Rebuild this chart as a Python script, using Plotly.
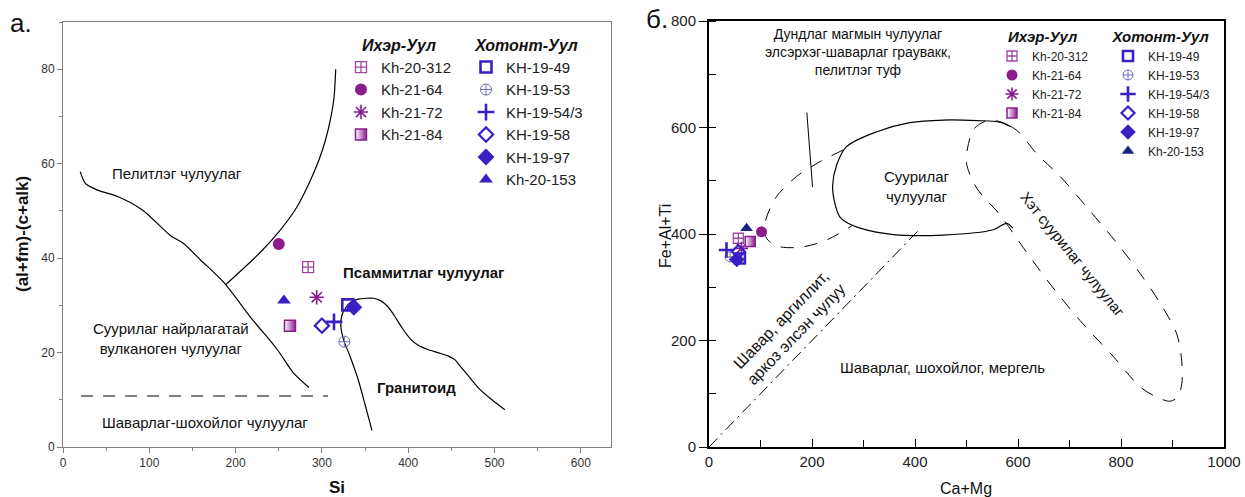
import plotly.graph_objects as go

FONT = "Liberation Sans, Arial, sans-serif"
PURPLE = "#8B1C8E"
PURPLE_L = "#9B4A9E"
BLUE = "#3A1FC4"
NAVY = "#1A2380"

# ---------------- sample names ----------------
ixer_names = ["Kh-20-312", "Kh-21-64", "Kh-21-72", "Kh-21-84"]
xot_names = ["KH-19-49", "KH-19-53", "KH-19-54/3", "KH-19-58", "KH-19-97", "Kh-20-153"]

# ---------------- panel a: Si vs (al+fm)-(c+alk) ----------------
a_ixer_si = [284, 250, 294, 263]
a_ixer_val = [38.1, 43.0, 31.7, 25.7]
a_xot_si = [330, 326, 314, 300, 337, 256]
a_xot_val = [30.1, 22.3, 26.5, 25.7, 29.6, 31.0]

# boundaries (panel a)
a_pel_x = [20, 26, 40, 64, 92, 125, 139, 160, 186, 219, 248, 267, 285]
a_pel_y = [58.3, 55.8, 54.4, 53.0, 50.2, 44.7, 43.2, 39.5, 34.9, 27.1, 20.7, 15.7, 12.6]
a_psm_x = [188, 229, 252, 270, 285, 297, 304, 310, 314, 316]
a_psm_y = [34.3, 41.3, 46.0, 50.5, 55.8, 61.0, 64.9, 69.5, 73.9, 80.0]
a_dash_x = [21, 307]
a_dash_y = [10.8, 10.8]
a_gran_x = [358, 350, 342, 333, 325, 322, 323, 328, 333, 342, 351, 360, 368, 376, 384,
            393, 403, 412, 422, 434, 446, 454, 460, 470, 483, 497, 512]
a_gran_y = [3.5, 9.0, 14.3, 19.0, 22.8, 25.5, 27.8, 29.6, 30.6, 31.3, 31.5, 31.5, 31.0, 29.8, 27.8,
            25.2, 22.8, 21.5, 20.7, 20.0, 19.3, 18.5, 17.2, 15.0, 12.2, 10.0, 7.9]

# ---------------- panel б: Ca+Mg vs Fe+Al+Ti ----------------
b_ixer_camg = [57, 102, 63, 80]
b_ixer_feal = [392, 404, 373, 386]
b_xot_camg = [60, 41, 34, 57, 54, 73]
b_xot_feal = [354, 357, 370, 367, 352, 411]

# boundaries (panel б)
b_dd_x = [0, 405]
b_dd_y = [0, 405]
b_ptr_x = [190, 201]
b_ptr_y = [628, 488]
b_ell_x = [585, 565, 520, 455, 390, 326, 267, 248, 240, 245, 254, 270, 293, 358, 455, 552, 578, 590]
b_ell_y = [602, 610, 613, 614, 609, 592, 564, 530, 490, 455, 432, 420, 411, 399, 398, 408, 420, 411]
b_mid_x = [261, 216, 170, 131, 112, 107, 115, 138, 183, 229, 280]
b_mid_y = [558, 536, 508, 470, 432, 405, 388, 376, 376, 389, 417]
b_hyp_x = [545, 584, 604, 636, 682, 733, 792, 837, 876, 908, 918, 918, 910, 895, 869, 837,
           785, 720, 656, 604, 565, 520, 500, 504, 515, 545]
b_hyp_y = [614, 603, 589, 551, 508, 451, 383, 326, 270, 213, 160, 119, 94, 86, 94, 113,
           170, 238, 314, 383, 436, 486, 533, 570, 598, 614]

# ---------------- marker styles ----------------
ixer_style = {
    "Kh-20-312": dict(symbol="square-cross-open", color=PURPLE_L, size=11, line=dict(width=1.3, color=PURPLE_L)),
    "Kh-21-64": dict(symbol="circle", color=PURPLE, size=12),
    "Kh-21-72": dict(symbol="asterisk-open", color=PURPLE, size=12, line=dict(width=1.6, color=PURPLE)),
    "Kh-21-84": dict(symbol="square", color="white", size=11, line=dict(width=1.5, color=PURPLE),
                     gradient=dict(type="horizontal", color=PURPLE)),
}
xot_style = {
    "KH-19-49": dict(symbol="square-open", color=BLUE, size=11, line=dict(width=2.6, color=BLUE)),
    "KH-19-53": dict(symbol="circle-cross-open", color="#6A6FB8", size=11, line=dict(width=1, color="#6A6FB8")),
    "KH-19-54/3": dict(symbol="cross-thin-open", color=BLUE, size=12, line=dict(width=2.6, color=BLUE)),
    "KH-19-58": dict(symbol="diamond-open", color=BLUE, size=11, line=dict(width=2.2, color=BLUE)),
    "KH-19-97": dict(symbol="diamond", color=BLUE, size=13),
    "Kh-20-153": dict(symbol="triangle-up", color=BLUE, size=12),
}

fig = go.Figure()

# ---- panel a lines ----
line_k = dict(color="black", width=1.2, shape="spline", smoothing=0.8)
for xs, ys in [(a_pel_x, a_pel_y), (a_psm_x, a_psm_y), (a_gran_x, a_gran_y)]:
    fig.add_trace(go.Scatter(x=xs, y=ys, mode="lines", line=line_k, showlegend=False,
                             hoverinfo="skip", xaxis="x", yaxis="y"))
fig.add_trace(go.Scatter(x=a_dash_x, y=a_dash_y, mode="lines",
                         line=dict(color="black", width=1.2, dash="12px,10px"),
                         showlegend=False, hoverinfo="skip", xaxis="x", yaxis="y"))

# ---- panel б lines ----
fig.add_trace(go.Scatter(x=b_dd_x, y=b_dd_y, mode="lines",
                         line=dict(color="black", width=1, dash="12px,5px,2px,5px"),
                         showlegend=False, hoverinfo="skip", xaxis="x2", yaxis="y2"))
fig.add_trace(go.Scatter(x=b_ptr_x, y=b_ptr_y, mode="lines", line=dict(color="black", width=1),
                         showlegend=False, hoverinfo="skip", xaxis="x2", yaxis="y2"))
fig.add_trace(go.Scatter(x=b_ell_x, y=b_ell_y, mode="lines",
                         line=dict(color="black", width=1.2, shape="spline", smoothing=0.9),
                         showlegend=False, hoverinfo="skip", xaxis="x2", yaxis="y2"))
for xs, ys in [(b_mid_x, b_mid_y), (b_hyp_x, b_hyp_y)]:
    fig.add_trace(go.Scatter(x=xs, y=ys, mode="lines",
                             line=dict(color="black", width=1, dash="13px,11px", shape="spline", smoothing=0.9),
                             showlegend=False, hoverinfo="skip", xaxis="x2", yaxis="y2"))

# ---- panel a points ----
for i, n in enumerate(ixer_names):
    fig.add_trace(go.Scatter(x=[a_ixer_si[i]], y=[a_ixer_val[i]], mode="markers", name=n,
                             marker=ixer_style[n], legend="legend", xaxis="x", yaxis="y"))
for i, n in enumerate(xot_names):
    fig.add_trace(go.Scatter(x=[a_xot_si[i]], y=[a_xot_val[i]], mode="markers", name=n,
                             marker=xot_style[n], legend="legend2", xaxis="x", yaxis="y"))

# ---- panel б points ----
for i, n in enumerate(ixer_names):
    st = dict(ixer_style[n]); st["size"] = st["size"] - 1
    fig.add_trace(go.Scatter(x=[b_ixer_camg[i]], y=[b_ixer_feal[i]], mode="markers", name=n,
                             marker=st, legend="legend3", xaxis="x2", yaxis="y2"))
for i, n in enumerate(xot_names):
    st = dict(xot_style[n]); st["size"] = st["size"] - 1
    if n == "Kh-20-153":
        st["color"] = NAVY
    fig.add_trace(go.Scatter(x=[b_xot_camg[i]], y=[b_xot_feal[i]], mode="markers", name=n,
                             marker=st, legend="legend4", xaxis="x2", yaxis="y2"))


def leg(x, y, title, size, tsize):
    return dict(x=x, y=y, xanchor="left", yanchor="top", xref="paper", yref="paper",
                title=dict(text="<b><i>" + title + "</i></b>", side="top center",
                           font=dict(size=tsize, family=FONT, color="#111")),
                font=dict(size=size, family=FONT, color="#222"), bgcolor="rgba(0,0,0,0)",
                itemclick=False, itemdoubleclick=False, tracegroupgap=0)


W, H = 1245, 497
ann = []
# panel a labels
ann += [
    dict(x=54, y=57.9, text="Пелитлэг чулуулаг", xanchor="left", font=dict(size=15)),
    dict(x=418, y=37.0, text="<b>Псаммитлаг чулуулаг</b>", font=dict(size=15)),
    dict(x=125, y=22.9, text="Суурилаг найрлагатай<br>вулканоген чулуулаг", font=dict(size=15)),
    dict(x=410, y=12.6, text="<b>Гранитоид</b>", font=dict(size=15)),
    dict(x=164, y=5.1, text="Шаварлаг-шохойлог чулуулаг", font=dict(size=15)),
]
for a in ann:
    a.update(xref="x", yref="y", showarrow=False)
ann2 = [
    dict(x=290, y=742, text="Дундлаг магмын чулуулаг<br>элсэрхэг-шаварлаг граувакк,<br>пелитлэг туф",
         font=dict(size=14)),
    dict(x=403, y=489, text="Суурилаг<br>чулуулаг", font=dict(size=15)),
    dict(x=707, y=362, text="Хэт суурилаг чулуулаг", textangle=51, font=dict(size=15)),
    dict(x=155, y=225, text="Шавар, аргиллит,<br>аркоз элсэн чулуу", textangle=-46, font=dict(size=16)),
    dict(x=454, y=149, text="Шаварлаг, шохойлог, мергель", font=dict(size=15)),
]
for a in ann2:
    a.update(xref="x2", yref="y2", showarrow=False)
ann += ann2
# panel letters and axis titles
ann += [
    dict(x=8 / W, y=1 - 6 / H, text="а.", xanchor="left", yanchor="top", font=dict(size=26)),
    dict(x=644 / W, y=1 - 2 / H, text="б.", xanchor="left", yanchor="top", font=dict(size=26)),
    dict(x=337 / W, y=1 - 487 / H, text="<b>Si</b>", font=dict(size=17)),
    dict(x=22 / W, y=1 - 234 / H, text="<b>(al+fm)-(c+alk)</b>", textangle=-90, font=dict(size=17)),
    dict(x=966 / W, y=1 - 488 / H, text="Ca+Mg", font=dict(size=16)),
    dict(x=665 / W, y=1 - 236 / H, text="Fe+Al+Ti", textangle=-90, font=dict(size=16)),
]
for a in ann[-6:]:
    a.update(xref="paper", yref="paper", showarrow=False)

for a in ann:
    a.setdefault("xanchor", "center")
    a.setdefault("yanchor", "middle")
    f = a.get("font", {})
    f.setdefault("family", FONT)
    f.setdefault("color", "#111")
    a["font"] = f

fig.update_layout(
    width=W, height=H, margin=dict(l=0, r=0, t=0, b=0, autoexpand=False),
    paper_bgcolor="white", plot_bgcolor="white",
    font=dict(family=FONT, color="#222"),
    annotations=ann,
    xaxis=dict(domain=[63 / W, 611 / W], range=[0, 635], dtick=100, tick0=0,
               showline=True, linecolor="#808080", linewidth=1, mirror=True,
               ticks="outside", ticklen=5, tickcolor="#808080",
               minor=dict(dtick=50, ticks="outside", ticklen=3, tickcolor="#808080"),
               showgrid=False, zeroline=False, tickfont=dict(size=12, color="#333"), anchor="y"),
    yaxis=dict(domain=[50 / H, 1 - 22 / H], range=[0, 90], dtick=20, tick0=0,
               showline=True, linecolor="#808080", linewidth=1, mirror=True,
               ticks="outside", ticklen=5, tickcolor="#808080",
               minor=dict(dtick=10, ticks="outside", ticklen=3, tickcolor="#808080"),
               showgrid=False, zeroline=False, tickfont=dict(size=12, color="#333"), anchor="x"),
    xaxis2=dict(domain=[709 / W, 1224 / W], range=[0, 1000], dtick=200, tick0=0,
                showline=True, linecolor="black", linewidth=2, mirror=True,
                ticks="inside", ticklen=8, tickwidth=1.3, tickcolor="black",
                minor=dict(dtick=100, ticks="inside", ticklen=7, tickwidth=1.3, tickcolor="black"),
                showgrid=False, zeroline=False, tickfont=dict(size=15, color="#222"), anchor="y2"),
    yaxis2=dict(domain=[50 / H, 1 - 21 / H], range=[0, 800], dtick=200, tick0=0,
                showline=True, linecolor="black", linewidth=2, mirror=True,
                ticks="outside", ticklen=8, tickwidth=1.3, tickcolor="black",
                minor=dict(dtick=100, ticks="inside", ticklen=7, tickwidth=1.3, tickcolor="black"),
                showgrid=False, zeroline=False, tickfont=dict(size=15, color="#222"), anchor="x2"),
    legend=leg(341 / W, 1 - 30 / H, "Ихэр-Уул", 15, 16),
    legend2=leg(466 / W, 1 - 30 / H, "Хотонт-Уул", 15, 16),
    legend3=leg(992 / W, 1 - 22 / H, "Ихэр-Уул", 12, 15),
    legend4=leg(1108 / W, 1 - 22 / H, "Хотонт-Уул", 12, 15),
)

fig.write_html("out.html",
               post_script="document.body.style.margin='0';document.body.style.overflow='hidden';")
